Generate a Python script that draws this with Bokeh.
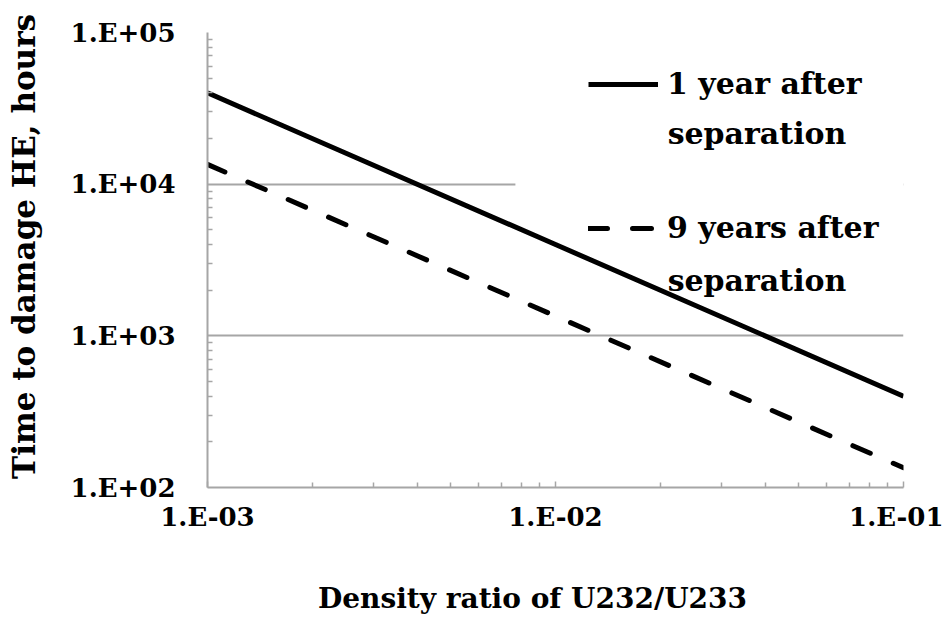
import math
from bokeh.plotting import figure
from bokeh.models import (Legend, LegendItem, Label, BoxAnnotation, FixedTicker,
                          CustomJSTickFormatter)
from bokeh.embed import file_html
from bokeh.resources import INLINE

# ---- data ----
ratio = [1e-3, 1e-2, 1e-1]
one_year = [40000, 4000, 400]
nine_years = [13500, 1350, 135]
series_first_lines = ["1 year after", "9 years after"]
series_second_lines = ["separation", "separation"]
x_ticks = [1e-3, 1e-2, 1e-1]
y_ticks = [1e2, 1e3, 1e4, 1e5]
x_label = "Density ratio of U232/U233"
y_label = "Time to damage HE, hours"

FONT = "DejaVu Serif"
GREY = "#A6A6A6"

x_minor = [m * 10.0 ** e for e in (-3, -2) for m in range(2, 10)]
y_minor = [m * 10.0 ** e for e in (2, 3, 4) for m in range(2, 10)]

p = figure(width=943, height=616, x_axis_type="log", y_axis_type="log",
           x_range=(x_ticks[0], x_ticks[-1]), y_range=(y_ticks[0], y_ticks[-1]),
           output_backend="svg", toolbar_location=None,
           min_border_left=207, min_border_right=40,
           min_border_top=32, min_border_bottom=129)
p.outline_line_color = None
p.background_fill_color = "white"

fmt = CustomJSTickFormatter(code="""
const e = Math.round(Math.log10(tick));
const s = e < 0 ? '-' : '+';
const a = Math.abs(e);
return '1.E' + s + (a < 10 ? '0' : '') + a;
""")

# axes
p.xaxis.ticker = FixedTicker(ticks=x_ticks, minor_ticks=x_minor)
p.yaxis.ticker = FixedTicker(ticks=y_ticks, minor_ticks=y_minor)
for ax in (p.xaxis[0], p.yaxis[0]):
    ax.formatter = fmt
    ax.axis_line_color = GREY
    ax.axis_line_width = 2
    ax.major_tick_line_color = GREY
    ax.major_tick_line_width = 1.5
    ax.minor_tick_line_color = GREY
    ax.minor_tick_line_width = 1.5
    ax.minor_tick_in = 5
    ax.minor_tick_out = 0
    ax.major_tick_out = 0
    ax.major_label_text_font = FONT
    ax.major_label_text_font_style = "bold"
    ax.major_label_text_font_size = "26px"
    ax.major_label_text_color = "black"

p.xaxis.major_tick_in = 6
p.yaxis.major_tick_in = 0
p.xaxis.major_label_standoff = 14
p.yaxis.major_label_standoff = 32

# axis titles placed in the side panels
p.add_layout(Label(x=325, y=-31, x_units="screen", y_units="screen",
                   text=x_label, text_align="center", text_baseline="middle",
                   text_font=FONT, text_font_style="bold",
                   text_font_size="28px", text_color="black"), "below")
p.add_layout(Label(x=-8, y=241, x_units="screen", y_units="screen",
                   angle=math.pi / 2, text=y_label, text_align="center",
                   text_baseline="middle", text_font=FONT,
                   text_font_style="bold", text_font_size="31px",
                   text_color="black"), "left")

# grid
p.xgrid.visible = False
p.ygrid.ticker = FixedTicker(ticks=y_ticks)
p.ygrid.grid_line_color = GREY
p.ygrid.grid_line_width = 2

# white legend backdrop that hides the grid lines (but not the series)
backdrop = BoxAnnotation(left=0.00767, bottom=2000, fill_color="white",
                         fill_alpha=1.0, line_alpha=0, level="underlay")
p.add_layout(backdrop)

r1 = p.line(ratio, one_year, line_color="black", line_width=5)
r2 = p.line(ratio, nine_years, line_color="black", line_width=5,
            line_dash="19 25", line_cap="round")

legend = Legend(items=[LegendItem(label=series_first_lines[0], renderers=[r1]),
                       LegendItem(label=series_first_lines[1], renderers=[r2])],
                location=(381, 242), glyph_width=70, glyph_height=30,
                label_height=30, label_standoff=9, spacing=109,
                padding=0, margin=0, background_fill_alpha=0,
                border_line_alpha=0, label_text_font=FONT,
                label_text_font_style="bold", label_text_font_size="30px",
                label_text_color="black")
p.add_layout(legend)

for xv, yv, txt in [(0.0210, 21600, series_second_lines[0]),
                    (0.0210, 2317, series_second_lines[1])]:
    p.add_layout(Label(x=xv, y=yv, text=txt, text_baseline="middle",
                       text_align="left", text_font=FONT,
                       text_font_style="bold", text_font_size="30px",
                       text_color="black"))

open("out.html", "w").write(file_html(p, INLINE))
